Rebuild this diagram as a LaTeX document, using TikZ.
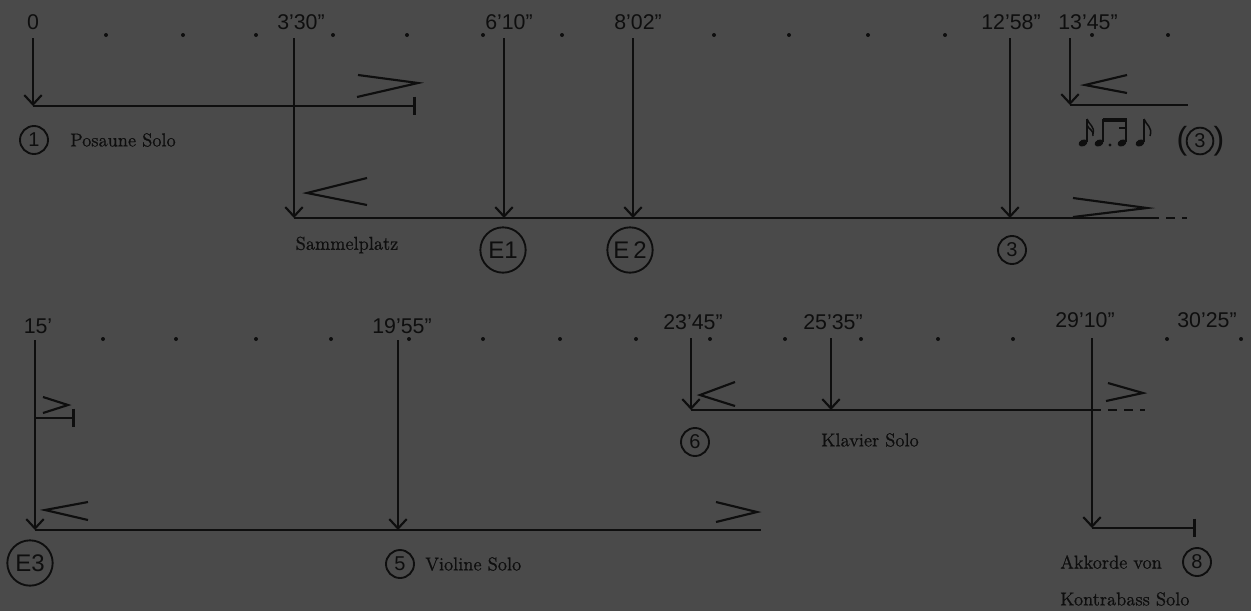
\documentclass[tikz,border=0pt]{standalone}
\usepackage{fontspec}
\setsansfont{Liberation Sans}
\newfontfamily\labfont[FakeBold=0.8]{Latin Modern Roman}
\usetikzlibrary{arrows.meta}
\definecolor{bg}{RGB}{74,74,74}
\definecolor{ink}{RGB}{14,14,14}
\begin{document}
\begin{tikzpicture}[x=0.75pt,y=-0.75pt,
  ln/.style={draw=ink,line width=2.1pt},
  arr/.style={ln,-{Straight Barb[length=7pt,width=13pt,line width=1.6pt]}},
  barend/.style={ln,-{Bar[width=14pt,line width=2pt]}},
  dsh/.style={draw=ink,line width=2.1pt,dash pattern=on 7pt off 5pt},
  hp/.style={draw=ink,line width=1.6pt,line join=miter},
  tlab/.style={text=ink,font=\sffamily\fontsize{16}{18}\selectfont,inner sep=0pt},
  slab/.style={text=ink,font=\labfont\fontsize{14}{16}\selectfont,inner sep=0pt,anchor=west},
  numc/.style={circle,draw=ink,line width=1.4pt,minimum size=21pt,inner sep=0pt,text=ink,font=\sffamily\fontsize{15}{16}\selectfont},
  ec/.style={circle,draw=ink,line width=1.4pt,minimum size=34pt,inner sep=0pt,text=ink,font=\sffamily\fontsize{18}{20}\selectfont},
  dotm/.style={fill=ink}]
\useasboundingbox[fill=bg] (0,0) rectangle (1251,611);

% ---------- top row ----------
\foreach \x in {106,183,256,333,407,483,562,714,789,868,945,1092,1168}
  \fill[dotm] (\x,35) circle (2);

\node[tlab] (l0) at (33,22) {0};
\node[tlab] (l1) at (301,22) {3’30”};
\node[tlab] (l2) at (509,22) {6’10”};
\node[tlab] (l3) at (638,22) {8’02”};
\node[tlab] (l4) at (1011,22) {12’58”};
\node[tlab] (l5) at (1088,22) {13’45”};

\coordinate (a0) at (33,38);   \coordinate (a0b) at (33,106);  \coordinate (e0) at (416,106);
\coordinate (a1) at (294,38);  \coordinate (a1b) at (294,218);
\coordinate (a2) at (504,38);  \coordinate (a2b) at (504,218);
\coordinate (a3) at (633,38);  \coordinate (a3b) at (633,218);
\coordinate (a4) at (1010,38); \coordinate (a4b) at (1010,218);
\coordinate (a5) at (1070,38); \coordinate (a5b) at (1070,105); \coordinate (e5) at (1188,105);
\coordinate (e1) at (1150,218); \coordinate (e1d) at (1187,218);

\draw[arr] (a0) -- (a0b);
\draw[barend] (a0b) -- (e0);
\draw[arr] (a1) -- (a1b);
\draw[ln] (a1b) -- (e1);
\draw[dsh] (e1) -- (e1d);
\draw[arr] (a2) -- (a2b);
\draw[arr] (a3) -- (a3b);
\draw[arr] (a4) -- (a4b);
\draw[arr] (a5) -- (a5b);
\draw[ln] (a5b) -- (e5);

% hairpins
\draw[hp] (358,75) -- (418,83) -- (357,97);
\draw[hp] (367,178) -- (307,193) -- (367,205);
\draw[hp] (1073,198) -- (1147,208) -- (1073,217);
\draw[hp] (1127,75) -- (1085,85) -- (1127,93);

\node[numc] (c1) at (34,140) {1};
\node[slab] (pos) at (70,140) {Posaune Solo};
\node[slab,anchor=center] (sam) at (347,245) {Sammelplatz};
\node[ec] (E1) at (503,250) {E1};
\node[ec] (E2) at (630,250) {E\,2};
\node[numc] (c3) at (1012,250) {3};

% notes
\foreach \x in {1083,1099,1122,1140}
  \fill[ink,rotate around={25:(\x,143)}] (\x,143) ellipse [x radius=4.6,y radius=3.3];
\foreach \x in {1087,1103,1126,1144}
  \draw[ink,line width=1.1pt] (\x,142) -- (\x,119);
\draw[ink,line width=1.1pt] (1087,119) .. controls (1089,125) and (1095,126) .. (1093,134);
\draw[ink,line width=1.1pt] (1087,125) .. controls (1089,130) and (1094,130) .. (1093,136);
\draw[ink,line width=2.4pt] (1102.5,120) -- (1126.5,120);
\draw[ink,line width=1.8pt] (1119,128) -- (1126.5,128);
\fill[ink] (1110,145) circle (1.6);
\draw[ink,line width=1.1pt] (1144,119) .. controls (1146,125) and (1153,127) .. (1150,136);
\node[text=ink,font=\sffamily\fontsize{24}{26}\selectfont,inner sep=0pt] (pl) at (1182,141) {(};
\node[numc,minimum size=20pt] (c3b) at (1200,141) {3};
\node[text=ink,font=\sffamily\fontsize{24}{26}\selectfont,inner sep=0pt] (pr) at (1219,141) {)};

% ---------- bottom row ----------
\foreach \x in {103,176,256,331,409,483,560,636,710,785,861,938,1013,1167,1241}
  \fill[dotm] (\x,339) circle (2);

\node[tlab] (m0) at (38,326) {15’};
\node[tlab] (m1) at (402,326) {19’55”};
\node[tlab] (m2) at (693,322) {23’45”};
\node[tlab] (m3) at (833,322) {25’35”};
\node[tlab] (m4) at (1085,320) {29’10”};
\node[tlab] (m5) at (1207,320) {30’25”};

\coordinate (b0) at (35,340);   \coordinate (b0b) at (35,530);
\coordinate (br) at (35,418);   \coordinate (bre) at (75,418);
\coordinate (b1) at (398,340);  \coordinate (b1b) at (398,530);
\coordinate (be) at (761,530);
\coordinate (b2) at (691,338);  \coordinate (b2b) at (691,410);
\coordinate (b3) at (831,338);  \coordinate (b3b) at (831,410);
\coordinate (b4) at (1092,338); \coordinate (b4m) at (1092,410); \coordinate (b4b) at (1092,528);
\coordinate (b2d) at (1145,410);
\coordinate (b4e) at (1196,528);

\draw[arr] (b0) -- (b0b);
\draw[barend] (br) -- (bre);
\draw[arr] (b1) -- (b1b);
\draw[ln] (b0b) -- (be);
\draw[arr] (b2) -- (b2b);
\draw[arr] (b3) -- (b3b);
\draw[ln] (b2b) -- (b4m);
\draw[dsh] (b4m) -- (b2d);
\draw[arr] (b4) -- (b4b);
\draw[barend] (b4b) -- (b4e);

\draw[hp] (43,397) -- (68,405) -- (43,413);
\draw[hp] (88,502) -- (45,510) -- (88,520);
\draw[hp] (716,502) -- (757,512) -- (716,522);
\draw[hp] (735,382) -- (700,395) -- (735,406);
\draw[hp] (1108,383) -- (1143,393) -- (1106,401);

\node[ec] (E3) at (30,563) {E3};
\node[numc] (c5) at (400,564) {5};
\node[slab] (vio) at (425,564) {Violine Solo};
\node[numc] (c6) at (695,442) {6};
\node[slab] (kla) at (821,440) {Klavier Solo};
\node[slab] (akk) at (1060,562) {Akkorde von};
\node[numc] (c8) at (1197,562) {8};
\node[slab] (kon) at (1060,599) {Kontrabass Solo};
\end{tikzpicture}
\end{document}
